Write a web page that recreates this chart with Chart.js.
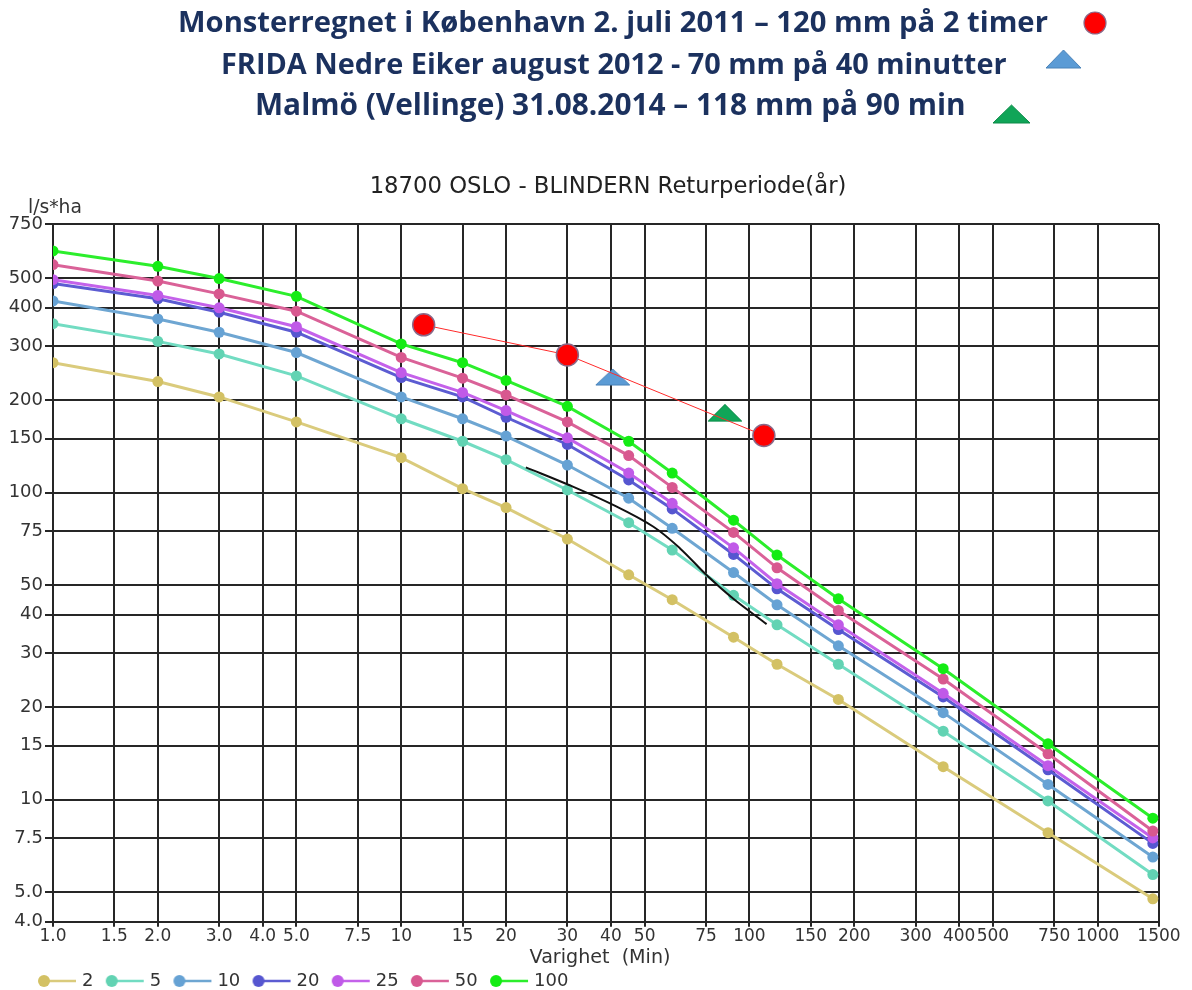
<!DOCTYPE html>
<html><head><meta charset="utf-8">
<script src="https://cdn.jsdelivr.net/npm/chart.js@4.4.1/dist/chart.umd.min.js"></script>
<style>html,body{margin:0;padding:0;background:#fff;overflow:hidden;width:1192px;height:990px}canvas{display:block}</style>
</head><body><canvas id="c" width="1192" height="1000"></canvas>
<script>
const durations = [1, 2, 3, 5, 10, 15, 20, 30, 45, 60, 90, 120, 180, 360, 720, 1440];
const seriesNames = ['2', '5', '10', '20', '25', '50', '100'];
const rp2   = [265, 230, 205, 170, 130, 103, 89.4, 70.6, 54, 44.8, 33.8, 27.6, 21.2, 12.8, 7.8, 4.75];
const rp5   = [355, 311, 283, 240, 174, 147, 128, 102, 79.8, 65, 46.3, 37.1, 27.6, 16.7, 9.9, 5.7];
const rp10  = [421, 368, 333, 286, 205, 174, 152.8, 123, 95.9, 76.5, 54.9, 43.1, 31.7, 19.2, 11.2, 6.5];
const rp20  = [480, 428, 387, 333, 237, 205, 176, 143.5, 110, 88.5, 62.9, 48.6, 35.8, 21.6, 12.5, 7.2];
const rp25  = [494, 439, 400, 347, 246, 212, 185, 150.8, 115.8, 92.3, 66.1, 50.5, 37.1, 22.2, 12.9, 7.5];
const rp50  = [553, 489, 444, 390, 275.6, 236, 208, 170, 132, 104, 74.2, 56.9, 41.3, 24.7, 14.1, 7.9];
const rp100 = [613, 546, 498, 436, 305, 265, 232, 191, 147, 115.8, 81.3, 62.6, 45.1, 26.7, 15.2, 8.7];

const xTickValues = [1, 1.5, 2, 3, 4, 5, 7.5, 10, 15, 20, 30, 40, 50, 75, 100, 150, 200, 300, 400, 500, 750, 1000, 1500];
const xTickLabels = ['1.0','1.5','2.0','3.0','4.0','5.0','7.5','10','15','20','30','40','50','75','100','150','200','300','400','500','750','1000','1500'];
const yTickValues = [4, 5, 7.5, 10, 15, 20, 30, 40, 50, 75, 100, 150, 200, 300, 400, 500, 750];
const yTickLabels = ['4.0','5.0','7.5','10','15','20','30','40','50','75','100','150','200','300','400','500','750'];

const kbhX = [11.6, 30, 110];
const kbhY = [352, 281, 153.5];
const fridaX = [40.5];
const fridaY = [238];
const malmoX = [85];
const malmoY = [182];
const curveX = [22.8, 30.2, 40.6, 53, 63.2, 75.4, 89.9, 112];
const curveY = [120.9, 106.1, 91.2, 77.4, 65.8, 53.8, 45.1, 37.3];

const headerLines = [
  'Monsterregnet i København 2. juli 2011 – 120 mm på 2 timer',
  'FRIDA Nedre Eiker august 2012 - 70 mm på 40 minutter',
  'Malmö (Vellinge) 31.08.2014 – 118 mm på 90 min'
];
const chartTitle = '18700 OSLO - BLINDERN Returperiode(år)';
const unitLabel = 'l/s*ha';
const xTitle = 'Varighet  (Min)';

const seriesValues = [rp2, rp5, rp10, rp20, rp25, rp50, rp100];
const lineColors  = ['#dacb7c', '#72dcc2', '#6ea6d2', '#5c5cd2', '#c462ea', '#da6298', '#2cee2c'];
const pointColors = ['#d3c164', '#62d3b3', '#66a2d4', '#5656d0', '#c05ae8', '#d8588f', '#14ec14'];

function pts(xs, ys) { return xs.map((x, i) => ({x: x, y: ys[i]})); }

function legendIcon(lc, pc) {
  const c = document.createElement('canvas');
  c.width = 40; c.height = 14;
  const g = c.getContext('2d');
  g.strokeStyle = lc; g.lineWidth = 2.5;
  g.beginPath(); g.moveTo(7, 7); g.lineTo(39, 7); g.stroke();
  g.fillStyle = pc; g.beginPath(); g.arc(7, 7, 6, 0, Math.PI * 2); g.fill();
  return c;
}
function triangleImg(w, h, fill, stroke) {
  const c = document.createElement('canvas');
  c.width = w + 2; c.height = h + 2;
  const g = c.getContext('2d');
  g.beginPath(); g.moveTo(1 + w / 2, 1); g.lineTo(1 + w, 1 + h); g.lineTo(1, 1 + h); g.closePath();
  g.fillStyle = fill; g.fill(); g.strokeStyle = stroke; g.lineWidth = 1; g.stroke();
  return c;
}
const icons = seriesNames.map((n, i) => legendIcon(lineColors[i], pointColors[i]));
const blueTri = triangleImg(34, 16, '#5b9bd5', '#4a82b8');
const greenTri = triangleImg(34, 17, '#10a558', '#0c8a48');

const datasets = seriesNames.map((name, i) => ({
  label: name,
  data: pts(durations, seriesValues[i]),
  borderColor: lineColors[i],
  backgroundColor: pointColors[i],
  pointBackgroundColor: pointColors[i],
  pointBorderWidth: 0,
  pointRadius: 5.5,
  borderWidth: 3,
  tension: 0,
  order: 7 - i
}));
datasets.push({
  label: 'curve', data: pts(curveX, curveY), borderColor: '#111', borderWidth: 2,
  pointRadius: 0, tension: 0.35, order: 0
});
datasets.push({
  label: 'kbh', data: pts(kbhX, kbhY), borderColor: '#ff2a2a', borderWidth: 1,
  pointRadius: 11, pointBackgroundColor: '#ff0000', pointBorderColor: '#8a6a8a', pointBorderWidth: 1.5, order: 0
});
datasets.push({
  label: 'frida', data: pts(fridaX, fridaY), showLine: false, pointStyle: blueTri, pointRadius: 10, order: 0
});
datasets.push({
  label: 'malmo', data: pts(malmoX, malmoY), showLine: false, pointStyle: greenTri, pointRadius: 10, order: 0
});

function fitFont(ctx, text, weight, family, target) {
  ctx.font = weight + ' 30px ' + family;
  const w = ctx.measureText(text).width;
  const fs = 30 * target / w;
  ctx.font = weight + ' ' + fs.toFixed(2) + 'px ' + family;
}

const decorPlugin = {
  id: 'decor',
  afterLayout(chart) {
    if (chart.legend) { chart.legend.left += 25.75; }
  },
  afterDraw(chart) {
    const ctx = chart.ctx;
    ctx.save();
    const spec = [
      {x: 178, y: 32, w: 870},
      {x: 221, y: 74, w: 786},
      {x: 255, y: 115, w: 711}
    ];
    ctx.textBaseline = 'alphabetic';
    ctx.textAlign = 'left';
    ctx.fillStyle = '#1b315e';
    headerLines.forEach((t, i) => {
      fitFont(ctx, t, 'bold', '"Open Sans"', spec[i].w);
      ctx.fillText(t, spec[i].x, spec[i].y);
    });
    // header markers
    ctx.beginPath(); ctx.arc(1095, 23, 11, 0, Math.PI * 2);
    ctx.fillStyle = '#ff0000'; ctx.fill(); ctx.strokeStyle = '#8a6a8a'; ctx.lineWidth = 1.2; ctx.stroke();
    ctx.drawImage(triangleImg(35, 18, '#5b9bd5', '#4a82b8'), 1045, 49);
    ctx.drawImage(triangleImg(37, 18, '#10a558', '#0c8a48'), 992, 104);
    // chart title
    ctx.fillStyle = '#222';
    ctx.textAlign = 'center';
    fitFont(ctx, chartTitle, 'normal', '"DejaVu Sans"', 477);
    ctx.fillText(chartTitle, 608, 193);
    // unit label
    ctx.textAlign = 'left';
    ctx.fillStyle = '#333';
    fitFont(ctx, unitLabel, 'normal', '"DejaVu Sans"', 54);
    ctx.fillText(unitLabel, 28, 213);
    // x title
    ctx.textAlign = 'center';
    fitFont(ctx, xTitle, 'normal', '"DejaVu Sans"', 141);
    ctx.fillText(xTitle, 600, 963);
    ctx.restore();
  }
};

Chart.defaults.font.family = '"DejaVu Sans"';
new Chart(document.getElementById('c'), {
  type: 'line',
  data: {datasets: datasets},
  plugins: [decorPlugin],
  options: {
    responsive: false,
    animation: false,
    devicePixelRatio: 1,
    events: [],
    layout: {padding: {top: 224, left: 0, right: 33, bottom: 0}},
    plugins: {
      tooltip: {enabled: false},
      title: {display: false},
      legend: {
        position: 'bottom',
        align: 'start',
        labels: {
          usePointStyle: true,
          pointStyleWidth: 32,
          padding: 15.25,
          color: '#333',
          font: {size: 18, family: '"DejaVu Sans"'},
          generateLabels: () => seriesNames.map((n, i) => ({
            text: n, pointStyle: icons[i], fillStyle: pointColors[i], strokeStyle: lineColors[i],
            lineWidth: 0, hidden: false, datasetIndex: i, fontColor: '#333'
          }))
        }
      }
    },
    scales: {
      x: {
        type: 'logarithmic', min: 1, max: 1500,
        afterBuildTicks: s => { s.ticks = xTickValues.map(v => ({value: v})); },
        afterFit: s => { s.height = 35; },
        ticks: {
          autoSkip: false, maxRotation: 0, minRotation: 0, padding: 0, color: '#333',
          font: {size: 17},
          callback: (v, i) => xTickLabels[i]
        },
        grid: {color: '#262626', lineWidth: 2, tickLength: 5},
        border: {color: '#262626', width: 2}
      },
      y: {
        type: 'logarithmic', min: 4, max: 750,
        afterBuildTicks: s => { s.ticks = yTickValues.map(v => ({value: v})); },
        afterFit: s => { s.width = 53; },
        ticks: {
          autoSkip: false, padding: 2, color: '#333',
          font: {size: 18},
          callback: (v, i) => yTickLabels[i]
        },
        grid: {color: '#262626', lineWidth: 2, tickLength: 8},
        border: {color: '#262626', width: 2}
      }
    }
  }
});
</script>
</body></html>
